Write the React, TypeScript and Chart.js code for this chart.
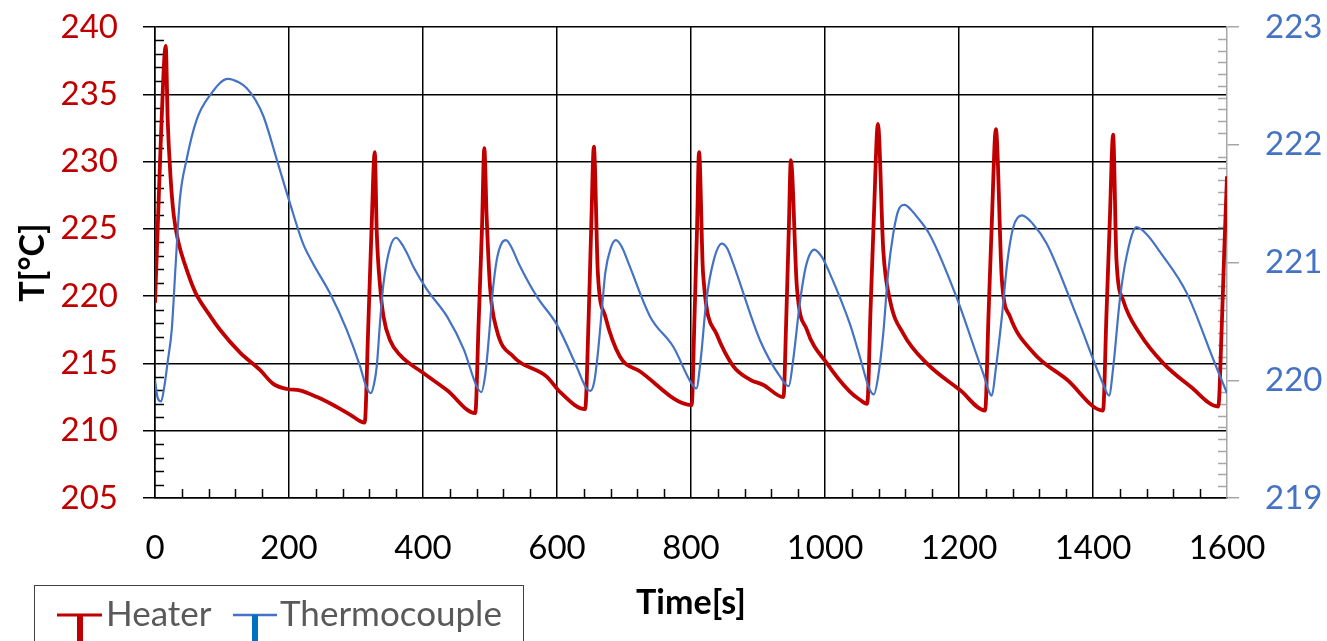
import { useEffect, useRef } from 'react';
import { Chart, registerables } from 'chart.js';

Chart.register(...registerables);

// Heater (left axis, °C)
const heaterTime = [
  0, 4, 9, 16, 19, 23, 28, 35, 45, 60, 80, 97, 127, 157, 176, 197, 216, 242, 270, 291,
  313, 318, 323, 328, 331, 336, 341, 351, 366, 400, 436, 478,
  483, 488, 491.5, 495, 500, 510, 535, 585, 604, 642,
  647, 651, 655, 661, 672, 694, 724, 801,
  805, 809, 812, 818, 838, 863, 888, 908, 938,
  942, 946, 949, 958, 973, 1003, 1037, 1052, 1063,
  1068, 1073, 1079, 1087, 1097, 1117, 1152, 1202, 1239,
  1244, 1249, 1255, 1264, 1276, 1311, 1361, 1415,
  1420, 1425, 1430, 1435, 1445, 1470, 1505, 1545, 1587,
  1592, 1596, 1600,
];
const heaterTemp = [
  219.5, 225, 232, 238.6, 233, 229, 226, 224, 222.3, 220.3, 218.7, 217.5, 215.8, 214.5, 213.5, 213.1, 213.0, 212.5, 211.8, 211.2,
  210.6, 217.3, 224.7, 230.7, 224.7, 220.7, 218.5, 216.7, 215.6, 214.3, 213.0, 211.3,
  218, 225, 231.0, 225.9, 220.7, 217.5, 215.5, 214.0, 212.9, 211.6,
  218, 225, 231.1, 221.7, 218.5, 215.5, 214.4, 211.9,
  218, 225, 230.7, 221.7, 217.2, 214.8, 213.8, 213.4, 212.5,
  218, 225, 230.1, 220.7, 217.5, 215.0, 212.9, 212.3, 212.0,
  219, 226, 232.8, 223.4, 219.7, 217.2, 215.0, 213.0, 211.5,
  218.5, 225.5, 232.4, 221.2, 218.5, 215.8, 213.8, 211.5,
  218.5, 225.5, 232.0, 222.7, 219.7, 217.2, 215.0, 213.3, 211.8,
  217.5, 223.5, 228.9,
];

// Thermocouple (right axis, °C)
const tcTime = [
  0, 4, 9, 14, 19, 25, 31, 37, 47, 62, 82, 109, 125, 137, 150, 162, 182, 200, 221, 236,
  261, 286, 306, 315, 322, 327, 331, 336, 341, 351, 360, 368, 376, 386, 406, 436, 461, 480,
  487, 493, 498, 504, 510, 517, 524, 532, 543, 570, 600, 629, 644,
  650, 656, 661, 667, 672, 680, 688, 697, 707, 739, 774, 800,
  808, 814, 823, 834, 846, 854, 863, 903, 933,
  946, 952, 963, 972, 984, 995, 1007, 1037, 1052, 1066,
  1073, 1079, 1087, 1094, 1102, 1110, 1119, 1128, 1137, 1157, 1196, 1236,
  1249, 1255, 1264, 1272, 1281, 1294, 1310, 1331, 1376, 1415,
  1424, 1430, 1440, 1450, 1465, 1480, 1500, 1540, 1580, 1600,
];
const tcTemp = [
  220.0, 219.85, 219.82, 219.95, 220.16, 220.43, 221.0, 221.53, 221.87, 222.21, 222.42, 222.56, 222.53, 222.48, 222.38, 222.24, 221.87, 221.53, 221.16, 220.99,
  220.74, 220.43, 220.12, 219.95, 219.89, 219.97, 220.12, 220.5, 220.82, 221.13, 221.21, 221.16, 221.08, 220.96, 220.77, 220.54, 220.26, 219.95,
  219.90, 220.05, 220.34, 220.75, 221.02, 221.16, 221.19, 221.13, 220.99, 220.71, 220.47, 220.12, 219.93,
  219.91, 220.0, 220.23, 220.6, 220.91, 221.12, 221.19, 221.13, 220.99, 220.54, 220.28, 219.98,
  219.93, 220.15, 220.68, 221.02, 221.16, 221.12, 220.99, 220.34, 220.03,
  219.95, 220.15, 220.68, 220.98, 221.11, 221.05, 220.91, 220.48, 220.20, 219.93,
  219.88, 220.02, 220.40, 220.9, 221.25, 221.45, 221.49, 221.45, 221.39, 221.23, 220.71, 220.06,
  219.87, 220.1, 220.54, 221.0, 221.30, 221.40, 221.33, 221.16, 220.54, 219.97,
  219.87, 220.1, 220.68, 221.05, 221.30, 221.24, 221.09, 220.74, 220.17, 219.89,
];

const xRange = [0, 1600];
const xStep = 200;
const xMinorStep = 40;
const leftRange = [205, 240];
const leftStep = 5;
const leftMinorStep = 1;
const rightRange = [219, 223];
const rightStep = 1;
const rightMinorStep = 0.1;

const seriesNames = ['Heater', 'Thermocouple'];
const axisTitles = { x: 'Time[s]', y: 'T[°C]' };

const FONT = 'Lato, "Open Sans", "Noto Sans", sans-serif';
const RED = '#C00000';
const BLUE = '#4472C4';
const GRAY_AXIS = '#A6A6A6';

const decor = {
  id: 'decor',
  beforeDatasetsDraw(chart: any) {
    const { ctx, chartArea, scales } = chart;
    ctx.save();
    ctx.lineWidth = 1.5;
    ctx.strokeStyle = '#000';
    ctx.beginPath();
    for (let v = leftRange[0]; v <= leftRange[1] + 1e-9; v += leftMinorStep) {
      if (Math.abs(v % leftStep) < 1e-6) continue;
      const y = Math.round(scales.y.getPixelForValue(v)) + 0.5;
      ctx.moveTo(chartArea.left, y);
      ctx.lineTo(chartArea.left + 9, y);
    }
    for (let t = xRange[0]; t <= xRange[1] + 1e-9; t += xMinorStep) {
      if (Math.abs(t % xStep) < 1e-6) continue;
      const x = Math.round(scales.x.getPixelForValue(t)) + 0.5;
      ctx.moveTo(x, chartArea.bottom);
      ctx.lineTo(x, chartArea.bottom - 9);
    }
    ctx.stroke();
    ctx.strokeStyle = GRAY_AXIS;
    ctx.beginPath();
    for (let i = 1; i < Math.round((rightRange[1] - rightRange[0]) / rightMinorStep); i++) {
      if (i % Math.round(rightStep / rightMinorStep) === 0) continue;
      const v = rightRange[0] + i * rightMinorStep;
      const y = Math.round(scales.y2.getPixelForValue(v)) + 0.5;
      ctx.moveTo(chartArea.right - 9, y);
      ctx.lineTo(chartArea.right, y);
    }
    ctx.stroke();
    ctx.restore();
  },
  afterDraw(chart: any) {
    const { ctx, chartArea } = chart;
    ctx.save();
    ctx.fillStyle = '#000';
    ctx.font = `bold 34px ${FONT}`;
    ctx.textAlign = 'center';
    ctx.textBaseline = 'middle';
    ctx.fillText(axisTitles.x, (chartArea.left + chartArea.right) / 2, 603);
    ctx.translate(33, (chartArea.top + chartArea.bottom) / 2);
    ctx.rotate(-Math.PI / 2);
    ctx.fillText(axisTitles.y, 0, 0);
    ctx.restore();

    ctx.save();
    ctx.strokeStyle = '#404040';
    ctx.lineWidth = 1;
    ctx.strokeRect(34.5, 585.5, 489, 100);
    ctx.strokeStyle = RED;
    ctx.lineWidth = 3;
    ctx.beginPath();
    ctx.moveTo(57, 615);
    ctx.lineTo(102, 615);
    ctx.stroke();
    ctx.lineWidth = 6;
    ctx.beginPath();
    ctx.moveTo(80, 615);
    ctx.lineTo(80, 645);
    ctx.stroke();
    ctx.strokeStyle = BLUE;
    ctx.lineWidth = 2.5;
    ctx.beginPath();
    ctx.moveTo(233, 615);
    ctx.lineTo(277, 615);
    ctx.stroke();
    ctx.strokeStyle = '#0070C0';
    ctx.lineWidth = 6;
    ctx.beginPath();
    ctx.moveTo(255, 615);
    ctx.lineTo(255, 645);
    ctx.stroke();
    ctx.fillStyle = '#595959';
    ctx.font = `35px ${FONT}`;
    ctx.textAlign = 'left';
    ctx.textBaseline = 'alphabetic';
    ctx.fillText(seriesNames[0], 106, 626);
    ctx.fillText(seriesNames[1], 280, 626);
    ctx.restore();
  },
};

const fixPads = (s: any) => {
  s.paddingTop = 0;
  s.paddingBottom = 0;
  s.paddingLeft = 0;
  s.paddingRight = 0;
};

export default function App() {
  const ref = useRef<HTMLCanvasElement>(null);
  useEffect(() => {
    const tickFont = { family: FONT, size: 33 };
    const chart = new Chart(ref.current as HTMLCanvasElement, {
      type: 'line',
      data: {
        datasets: [
          {
            label: seriesNames[1],
            data: tcTime.map((t, i) => ({ x: t, y: tcTemp[i] })),
            yAxisID: 'y2',
            borderColor: BLUE,
            borderWidth: 2.2,
            pointRadius: 0,
            cubicInterpolationMode: 'monotone',
          },
          {
            label: seriesNames[0],
            data: heaterTime.map((t, i) => ({ x: t, y: heaterTemp[i] })),
            yAxisID: 'y',
            borderColor: RED,
            borderWidth: 3.8,
            pointRadius: 0,
            cubicInterpolationMode: 'monotone',
          },
        ],
      },
      options: {
        animation: false,
        responsive: false,
        layout: { padding: { top: 27, left: 0, right: 0, bottom: 0 } },
        plugins: { legend: { display: false }, tooltip: { enabled: false } },
        scales: {
          x: {
            type: 'linear',
            min: xRange[0],
            max: xRange[1],
            ticks: {
              stepSize: xStep, color: '#000', font: tickFont, padding: 31, maxRotation: 0, autoSkip: false,
              callback: (v: any) => String(v),
            },
            grid: {
              color: (c: any) => (c.tick && c.tick.value === xRange[1] ? 'rgba(0,0,0,0)' : '#000'),
              lineWidth: 1.5,
              drawTicks: false,
            },
            border: { color: '#000', width: 1.5 },
            afterFit: (s: any) => { s.height = 143; fixPads(s); },
          },
          y: {
            type: 'linear',
            position: 'left',
            min: leftRange[0],
            max: leftRange[1],
            ticks: { stepSize: leftStep, color: RED, font: tickFont, padding: 25, callback: (v: any) => String(v) },
            grid: { color: '#000', lineWidth: 1.5, tickLength: 12, tickColor: '#000' },
            border: { color: '#000', width: 1.5 },
            afterFit: (s: any) => { s.width = 155; fixPads(s); },
          },
          y2: {
            type: 'linear',
            position: 'right',
            min: rightRange[0],
            max: rightRange[1],
            ticks: { stepSize: rightStep, color: BLUE, font: tickFont, padding: 26, callback: (v: any) => String(v) },
            grid: { drawOnChartArea: false, tickLength: 12, tickColor: GRAY_AXIS, lineWidth: 1.5 },
            border: { color: GRAY_AXIS, width: 1.5 },
            afterFit: (s: any) => { s.width = 100; fixPads(s); },
          },
        },
      } as any,
      plugins: [decor],
    });
    return () => chart.destroy();
  }, []);
  return (
    <div style={{ position: 'absolute', left: 0, top: 0, width: 1327, height: 641, background: '#fff' }}>
      <canvas ref={ref} width={1327} height={641} />
    </div>
  );
}
